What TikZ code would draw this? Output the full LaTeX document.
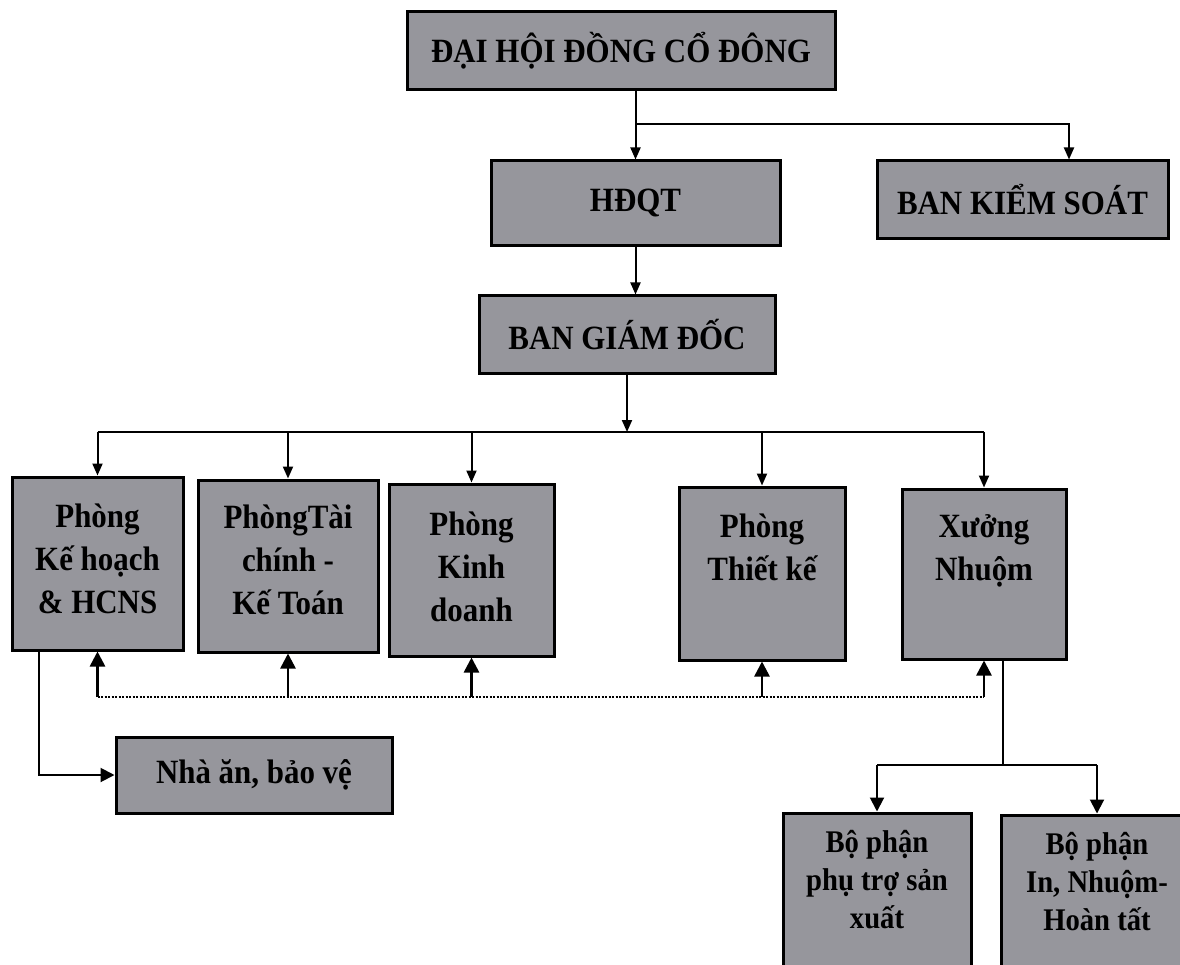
\documentclass[tikz,border=0pt]{standalone}
\usepackage{fontspec}
\setmainfont{Liberation Serif}[FakeStretch=0.91]
\usetikzlibrary{arrows.meta}
\definecolor{boxfill}{RGB}{150,150,156}
\newcommand\tbox[4]{\parbox[c][#1][t]{#2}{\centering\vspace*{#3}#4}}
\newcommand\fs[1]{\rule{0pt}{#1}}
\begin{document}
\begin{tikzpicture}[x=1pt,y=-1pt,
  box/.style={draw=black, line width=3pt, fill=boxfill, inner sep=0pt,
    font=\fontsize{34}{43}\selectfont\bfseries, align=center},
  smallbox/.style={box, font=\fontsize{31.5}{38}\selectfont\bfseries},
  conn/.style={line width=2pt},
  arr/.style={conn, -{Triangle[length=12pt,width=10pt]}},
  bigarr/.style={conn, -{Triangle[length=14pt,width=14pt]}},
  uparr/.style={line width=2.6pt, -{Triangle[length=15pt,width=15pt]}},
  dotline/.style={line width=2pt, dash pattern=on 2pt off 1.5pt}]
\useasboundingbox (0,0) rectangle (1180,965);
\clip (0,0) rectangle (1180,965);
% boxes
\node[box, minimum width=428pt, minimum height=78pt] (top) at (621,51) {ĐẠI HỘI ĐỒNG CỔ ĐÔNG};
\node[box, minimum width=289pt, minimum height=85pt] (hdqt) at (635.5,203.5) {HĐQT};
\node[box, minimum width=291pt, minimum height=78pt] (bks) at (1022.5,200) {BAN KIỂM SOÁT};
\node[box, minimum width=296pt, minimum height=77pt] (bgd) at (627,334.5) {BAN GIÁM ĐỐC};
\node[box] (p1) at (97.5,563.5) {\tbox{173pt}{171pt}{14pt}{\fs{36pt}Phòng\\Kế hoạch\\\& HCNS}};
\node[box] (p2) at (288,566) {\tbox{172pt}{180pt}{12pt}{\fs{36pt}PhòngTài\\chính -\\Kế Toán}};
\node[box] (p3) at (471.5,570) {\tbox{172pt}{165pt}{15pt}{\fs{36pt}Phòng\\Kinh\\doanh}};
\node[box] (p4) at (762,573.5) {\tbox{173pt}{166pt}{14pt}{\fs{36pt}Phòng\\Thiết kế}};
\node[box] (p5) at (984,574) {\tbox{170pt}{164pt}{12pt}{\fs{36pt}Xưởng\\Nhuộm}};
\node[box, minimum width=276pt, minimum height=76pt] (nhaan) at (254,775) {Nhà ăn, bảo vệ};
\node[smallbox] (bp1) at (877,913) {\tbox{200pt}{188pt}{6pt}{\fs{33pt}Bộ phận\\phụ trợ sản\\xuất}};
\node[smallbox] (bp2) at (1097,915) {\tbox{200pt}{192pt}{6pt}{\fs{33pt}Bộ phận\\In, Nhuộm-\\Hoàn tất}};
% coordinates
\coordinate (j1) at (635.5,124);
\coordinate (bus) at (627,432);
\coordinate (dl) at (0,697);
\coordinate (j2) at (1003,765);
% top connectors
\draw[arr] (top.south -| hdqt.north) -- (hdqt.north);
\draw[arr] (j1) -| ([xshift=46.5pt]bks.north);
\draw[arr] (hdqt.south) -- (hdqt.south |- bgd.north);
\draw[arr] (bgd.south) -- (bus);
% bus to departments
\draw[conn] (p1.north |- bus) -- (p5.north |- bus);
\draw[arr] (p1.north |- bus) -- (p1.north);
\draw[arr] (p2.north |- bus) -- (p2.north);
\draw[arr] (p3.north |- bus) -- (p3.north);
\draw[arr] (p4.north |- bus) -- (p4.north);
\draw[arr] (p5.north |- bus) -- (p5.north);
% dotted coordination line
\draw[dotline] (p1.south |- dl) -- (p5.south |- dl);
\draw[uparr] (p1.south |- dl) -- (p1.south);
\draw[uparr] (p2.south |- dl) -- (p2.south);
\draw[uparr] (p3.south |- dl) -- (p3.south);
\draw[uparr] (p4.south |- dl) -- (p4.south);
\draw[uparr] (p5.south |- dl) -- (p5.south);
% Nha an
\draw[bigarr] ([xshift=-58.5pt]p1.south) |- (nhaan.west);
% Xuong Nhuom branches
\draw[conn] ([xshift=19pt]p5.south) -- (j2);
\draw[conn] (bp1.north |- j2) -- (bp2.north |- j2);
\draw[bigarr] (bp1.north |- j2) -- (bp1.north);
\draw[bigarr] (bp2.north |- j2) -- (bp2.north);
\end{tikzpicture}
\end{document}
